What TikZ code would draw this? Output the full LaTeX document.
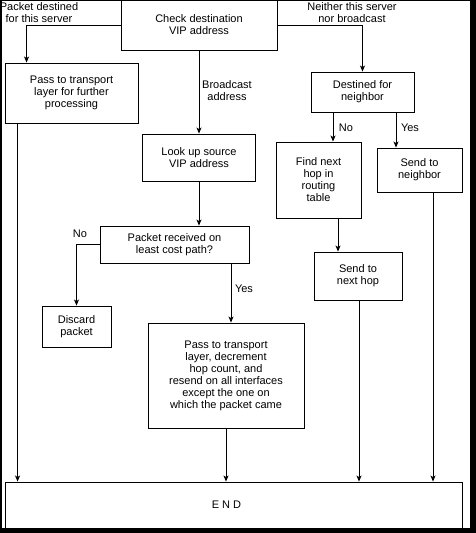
\documentclass[tikz,border=0pt]{standalone}
\usepackage{fontspec}
\setmainfont{Liberation Sans}
\usetikzlibrary{arrows.meta,positioning}

\begin{document}
\begin{tikzpicture}[->,>={Stealth[length=6pt,width=5pt,inset=1.5pt]},x=1pt,y=-1pt,line width=0.9pt,
    font=\fontsize{11}{12}\selectfont,
    box node/.style={draw,align=center,inner sep=1pt}, tag node/.style={align=center,inner sep=0pt}]

\useasboundingbox (0,0) rectangle (476,533);
\fill[black] (0,0) rectangle (476,533);
\fill[white] (2,1) rectangle (470,528);

\node[box node,minimum width=156pt,minimum height=50pt] (check)    at (199,25)    {Check destination\\VIP address};
\node[box node,minimum width=133pt,minimum height=60pt] (pass)     at (71.5,93)   {Pass to transport\\layer for further\\processing};
\node[box node,minimum width=113pt,minimum height=47pt] (lookup)   at (199,157.5) {Look up source\\VIP address};
\node[box node,minimum width=149pt,minimum height=37pt] (received) at (174.5,244.5) {Packet received on\\least cost path?};
\node[box node,minimum width=69pt,minimum height=41pt]  (discard)  at (76.5,326.5) {Discard\\packet};
\node[box node,minimum width=156pt,minimum height=105pt] (resend)  at (226,375.5) {Pass to transport\\layer, decrement\\hop count, and\\resend on all interfaces\\except the one on\\which the packet came};
\node[box node,minimum width=103pt,minimum height=40pt] (destined) at (362.5,92)  {Destined for\\neighbor};
\node[box node,minimum width=85pt,minimum height=76pt]  (findhop)  at (318.5,180) {Find next\\hop in\\routing\\table};
\node[box node,minimum width=85pt,minimum height=44pt]  (sendnbr)  at (419.5,170) {Send to\\neighbor};
\node[box node,minimum width=88pt,minimum height=48pt]  (sendhop)  at (358,276)   {Send to\\next hop};
\node[box node,minimum width=457pt,minimum height=46pt] (finish)   at (233.5,505) {\hspace*{-14pt}E N D};

\node[tag node] (thisserver) at (39,12.5)  {Packet destined\\for this server};
\node[tag node] (neither)    at (352,12.5) {Neither this server\\nor broadcast};
\node[tag node] (bcast)      at (227,91)   {Broadcast\\address};
\node[tag node] (rcvno)      at (80,234)   {No};
\node[tag node] (rcvyes)     at (244,289)  {Yes};
\node[tag node] (nbrno)      at (346,128)  {No};
\node[tag node] (nbryes)     at (410,128)  {Yes};

% branches out of the first check
\draw (check.west) -| ([xshift=22pt]pass.north west);
\draw (check.south) -- (lookup.north);
\draw (check.east) -| (destined.north);

% broadcast path
\draw (lookup.south) -- (lookup.south |- received.north);
\draw (received.west) -| (discard.north);
\draw ([xshift=56.5pt]received.south) -- ([xshift=56.5pt]received.south |- resend.north);

% neighbor path
\draw ([xshift=-29.5pt]destined.south) -- ([xshift=-29.5pt]destined.south |- findhop.north);
\draw ([xshift=33.5pt]destined.south) -- ([xshift=33.5pt]destined.south |- sendnbr.north);
\draw ([xshift=19.5pt]findhop.south) -- ([xshift=19.5pt]findhop.south |- sendhop.north);

% into END
\draw ([xshift=13pt]pass.south west) -- ([xshift=13pt]pass.south west |- finish.north);
\draw (resend.south) -- (resend.south |- finish.north);
\draw ([xshift=1pt]sendhop.south) -- ([xshift=1pt]sendhop.south |- finish.north);
\draw ([xshift=13.5pt]sendnbr.south) -- ([xshift=13.5pt]sendnbr.south |- finish.north);
\end{tikzpicture}
\end{document}
